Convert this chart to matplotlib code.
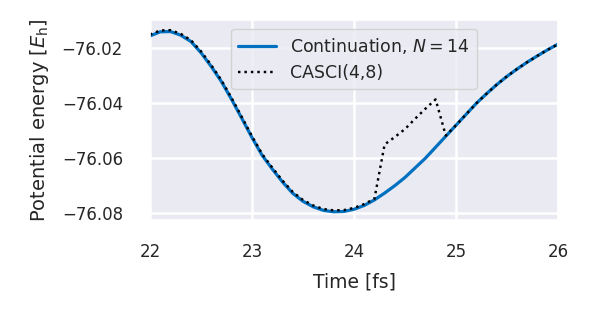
import matplotlib
matplotlib.use("Agg")
import matplotlib.pyplot as plt
import seaborn as sns

sns.set_theme()  # darkgrid, notebook

# Zeitachse in fs (0.1 fs Schritte)
time_fs = [22.0 + 0.1 * i for i in range(41)]

# Continuation, N=14
e_cont = [-76.0155, -76.0140, -76.0139, -76.0152, -76.0175, -76.0216, -76.0266, -76.0321,
          -76.0386, -76.0455, -76.0525, -76.0590, -76.0640, -76.0687, -76.0728, -76.0757,
          -76.0777, -76.0790, -76.0795, -76.0794, -76.0786, -76.0772, -76.0752, -76.0727,
          -76.0700, -76.0670, -76.0635, -76.0600, -76.0560, -76.0520, -76.0480, -76.0440,
          -76.0400, -76.0365, -76.0332, -76.0302, -76.0275, -76.0250, -76.0227, -76.0205,
          -76.0185]

# CASCI(4,8)
e_casci = [-76.0150, -76.0135, -76.0134, -76.0147, -76.0170, -76.0211, -76.0261, -76.0316,
           -76.0381, -76.0450, -76.0520, -76.0585, -76.0635, -76.0682, -76.0723, -76.0752,
           -76.0772, -76.0785, -76.0790, -76.0789, -76.0781, -76.0767, -76.0748, -76.0550,
           -76.0523, -76.0494, -76.0456, -76.0420, -76.0386, -76.0518, -76.0480, -76.0440,
           -76.0400, -76.0365, -76.0332, -76.0302, -76.0275, -76.0250, -76.0227, -76.0205,
           -76.0185]

fig = plt.figure(figsize=(5.99, 3.15), dpi=100)
ax = fig.add_subplot(111)
fig.subplots_adjust(left=0.2504, right=0.9316, bottom=0.3016, top=0.9365)

ax.plot(time_fs, e_cont, color="#0070c0", lw=2.3, label=r"Continuation, $N=14$")
ax.plot(time_fs, e_casci, color="black", ls=":", lw=1.75, label="CASCI(4,8)")

ax.set_xlim(22, 26)
ax.set_ylim(-76.0825, -76.0097)
ax.set_xticks([22, 23, 24, 25, 26])
ax.set_yticks([-76.08, -76.06, -76.04, -76.02])
ax.tick_params(axis="x", labelsize=12, pad=10.5)
ax.tick_params(axis="y", labelsize=12, pad=13.5)
ax.grid(lw=1.8)
ax.set_xlabel("Time [fs]", fontsize=13.5, labelpad=8)
ax.set_ylabel(r"Potential energy [$E_\mathrm{h}$]", fontsize=14, labelpad=8)
ax.legend(loc="upper center", fontsize=12.5, handlelength=2.2)

fig.savefig("out.png", dpi=100)
